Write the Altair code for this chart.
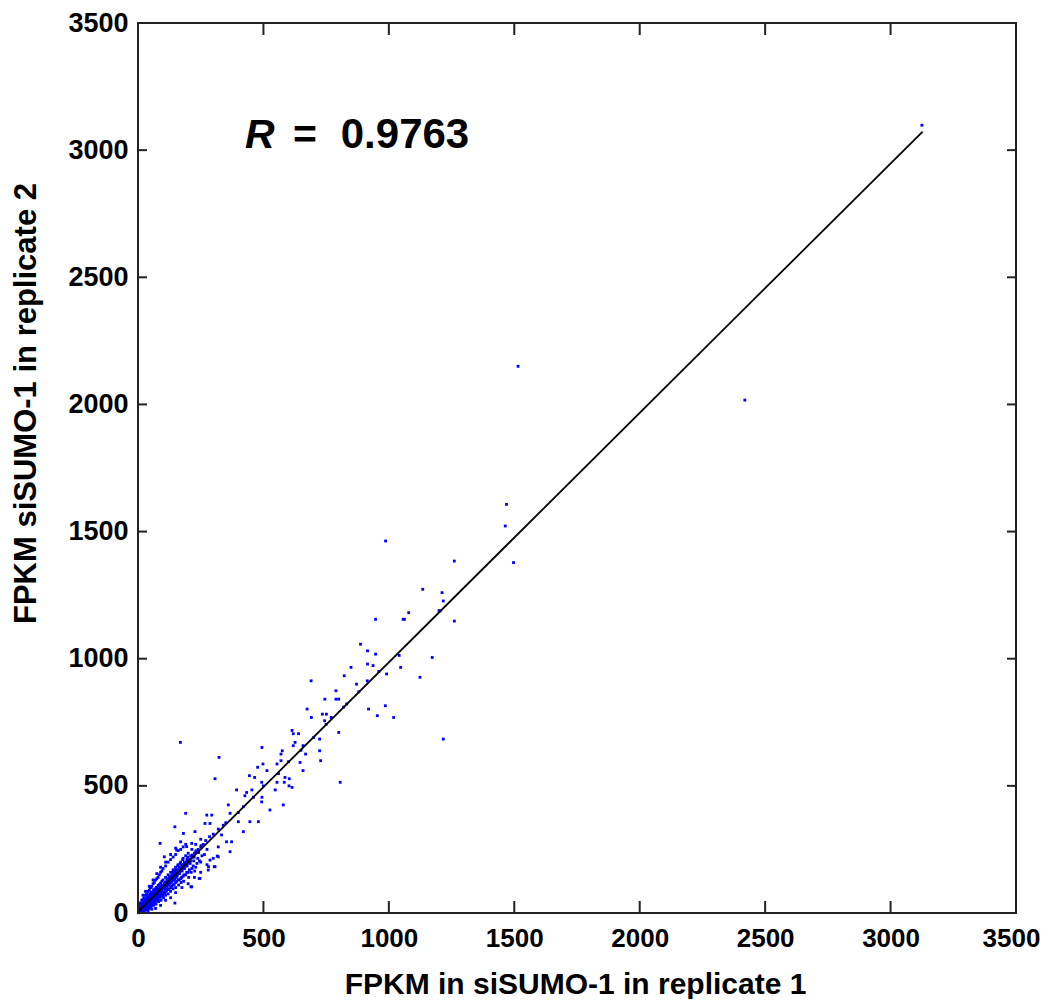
import altair as alt
import pandas as pd

# ---- data (FPKM replicate 1 vs replicate 2) ----
outliers = [
    (1515, 2150), (2419, 2017), (3125, 3098),
    (1469, 1607), (1464, 1522), (987, 1463), (1497, 1378), (1261, 1384),
    (1135, 1273), (1212, 1260), (1217, 1227), (1079, 1181), (1204, 1188),
    (1057, 1155), (1062, 1155), (947, 1155), (1261, 1148), (1041, 1013),
    (1173, 1005), (887, 1057), (915, 1031), (947, 1018), (915, 979),
    (937, 973), (1047, 966), (849, 966), (1124, 927), (991, 940), (690, 913),
    (822, 933), (871, 900), (914, 913), (789, 874), (745, 841), (789, 841),
    (800, 841), (832, 822), (674, 802), (919, 802), (986, 815), (735, 782),
    (751, 782), (954, 776), (1019, 769), (691, 769), (744, 756), (770, 769),
    (800, 710), (1217, 684), (614, 718), (619, 705), (640, 705), (724, 684),
    (626, 671), (619, 658), (658, 658), (668, 625), (575, 638), (570, 625),
    (724, 638), (728, 599), (494, 651), (169, 671), (323, 612), (498, 586),
    (554, 586), (570, 599), (646, 592), (477, 573), (514, 560), (658, 560),
    (444, 540), (465, 533), (307, 528), (586, 533), (603, 528), (554, 514),
    (583, 514), (493, 514), (806, 514), (602, 500), (614, 494), (393, 484),
    (547, 484), (433, 474), (454, 484), (426, 461), (460, 455), (494, 455),
    (579, 425), (526, 405), (493, 437), (446, 359), (480, 359), (420, 320),
    (400, 359), (367, 241), (353, 280), (373, 280), (333, 307), (227, 320),
    (181, 313), (214, 274), (281, 182), (307, 182), (320, 221), (190, 392),
    (147, 339), (274, 385), (294, 385), (267, 352), (287, 352), (367, 392),
    (360, 425), (154, 248), (194, 261), (105, 221), (48, 103), (211, 103),
    (247, 136), (88, 274), (316, 224), (280, 169), (287, 208), (147, 39),
    (214, 103), (244, 136), (304, 182),
]

near_line = [
    (350, 355), (400, 395), (420, 418), (500, 500), (560, 548), (600, 595),
    (650, 640), (700, 690), (750, 742), (820, 810), (880, 870), (960, 950),
    (1200, 1189),
]

cluster = [
    (5, 2), (5, 10), (5, 20), (5, 35), (8, 5), (10, 3), (10, 15), (10, 25),
    (10, 40), (12, 8), (15, 8), (15, 18), (15, 30), (15, 50), (18, 12),
    (20, 10), (20, 22), (20, 35), (20, 55), (22, 5), (25, 15), (25, 28),
    (25, 40), (25, 60), (28, 20), (30, 18), (30, 32), (30, 45), (30, 70),
    (32, 12), (35, 22), (35, 38), (35, 50), (35, 75), (38, 28), (40, 25),
    (40, 42), (40, 58), (40, 85), (42, 15), (45, 30), (45, 48), (45, 65),
    (45, 90), (48, 38), (50, 35), (50, 52), (50, 70), (50, 100), (52, 20),
    (55, 40), (55, 58), (55, 78), (55, 105), (58, 45), (60, 42), (60, 62),
    (60, 80), (60, 115), (62, 30), (65, 48), (65, 68), (65, 88), (65, 120),
    (68, 55), (70, 50), (70, 72), (70, 95), (70, 130), (72, 35), (75, 58),
    (75, 78), (75, 100), (75, 135), (78, 62), (80, 60), (80, 82), (80, 108),
    (80, 140), (82, 45), (85, 65), (85, 88), (85, 112), (85, 150), (88, 72),
    (90, 68), (90, 92), (90, 118), (90, 160), (92, 50), (95, 75), (95, 98),
    (95, 125), (95, 165), (98, 80), (100, 78), (100, 102), (100, 130),
    (100, 175), (102, 60), (110, 85), (110, 112), (110, 140), (110, 185),
    (110, 70), (112, 95), (120, 95), (120, 122), (120, 150), (120, 200),
    (120, 75), (122, 110), (130, 100), (130, 132), (130, 160), (130, 210),
    (130, 85), (132, 120), (140, 110), (140, 142), (140, 170), (140, 220),
    (140, 95), (142, 130), (150, 120), (150, 152), (150, 180), (150, 230),
    (150, 100), (152, 140), (160, 130), (160, 162), (160, 190), (160, 245),
    (162, 110), (170, 135), (170, 172), (170, 200), (170, 250), (172, 120),
    (180, 145), (180, 182), (180, 215), (180, 260), (182, 125), (190, 150),
    (190, 195), (190, 225), (190, 270), (200, 160), (200, 205), (200, 235),
    (202, 140), (215, 175), (215, 220), (215, 250), (230, 180), (230, 240),
    (230, 270), (250, 200), (250, 260), (250, 290),
    (3, 6), (6, 14), (12, 22), (18, 28), (24, 33), (28, 26), (33, 42),
    (38, 46), (44, 52), (48, 60), (53, 62), (57, 66), (63, 72), (67, 78),
    (72, 85), (77, 90), (83, 95), (87, 100), (93, 105), (97, 110), (105, 115),
    (115, 128), (125, 140), (135, 150), (145, 160), (155, 170), (165, 180),
    (175, 190), (185, 200), (195, 210), (210, 225), (225, 235), (240, 250),
    (260, 270), (270, 285), (285, 300), (300, 310), (320, 330), (340, 345),
]

cluster_fill = [
    (2, 1), (4, 12), (7, 3), (7, 18), (9, 28), (11, 6), (13, 16), (14, 35),
    (16, 24), (17, 4), (19, 40), (21, 16), (23, 45), (24, 8), (26, 34),
    (27, 50), (29, 12), (31, 25), (32, 55), (34, 16), (36, 30), (37, 62),
    (39, 20), (41, 35), (43, 68), (44, 22), (46, 42), (47, 75), (49, 28),
    (51, 45), (53, 82), (54, 30), (56, 50), (59, 36), (61, 55), (62, 92),
    (64, 40), (66, 60), (69, 45), (71, 64), (73, 100), (74, 50), (76, 70),
    (79, 55), (81, 75), (84, 58), (86, 80), (89, 62), (91, 85), (94, 66),
    (96, 90), (99, 70), (104, 95), (107, 80), (108, 120), (114, 88),
    (116, 105), (118, 135), (124, 92), (126, 115), (128, 145), (134, 105),
    (136, 125), (138, 160), (144, 112), (146, 135), (148, 170), (154, 125),
    (156, 145), (158, 185), (164, 130), (166, 155), (168, 195), (174, 140),
    (176, 165), (178, 210), (184, 150), (186, 175), (194, 160), (196, 185),
    (198, 220), (205, 170), (208, 195), (212, 160), (220, 185), (222, 205),
    (226, 165), (235, 195), (238, 215), (245, 205), (255, 225), (265, 230),
    (275, 250),
]

cluster_core = [
    (3, 3), (6, 8), (9, 10), (12, 13), (14, 20), (17, 18), (19, 25), (22, 26),
    (24, 22), (27, 32), (29, 36), (32, 30), (34, 40), (37, 44), (39, 38),
    (42, 48), (44, 45), (47, 55), (49, 50), (52, 58), (54, 55), (57, 62),
    (59, 60), (62, 68), (64, 65), (67, 72), (69, 70), (72, 78), (74, 75),
    (77, 82), (79, 80), (82, 88), (84, 85), (87, 92), (89, 90), (92, 98),
    (94, 95), (97, 102), (103, 108), (106, 104), (109, 118), (113, 110),
    (117, 124), (121, 118), (127, 130), (131, 140), (137, 138), (141, 150),
    (147, 145), (151, 160), (157, 152), (161, 170), (167, 165), (171, 180),
    (177, 175), (183, 190), (187, 185), (193, 200), (197, 195), (204, 212),
    (209, 205), (217, 228), (224, 220), (232, 245), (242, 238), (252, 265),
    (20, 70), (30, 85), (45, 105), (60, 130), (75, 155), (90, 180),
    (110, 200), (130, 230), (150, 255), (170, 280), (40, 5), (55, 15),
    (70, 18), (90, 30), (110, 50), (130, 60), (150, 80), (175, 100),
    (200, 115), (225, 140), (250, 160), (275, 190), (300, 215), (320, 260),
]

fit_x = [0, 3128]
fit_y = [5, 3073]
tick_values = [0, 500, 1000, 1500, 2000, 2500, 3000, 3500]
r_label = ["R", "=", "0.9763"]

pts = outliers + near_line + cluster + cluster_fill + cluster_core
rep1 = [p[0] for p in pts]
rep2 = [p[1] for p in pts]

W, H = 878, 890
xs = alt.Scale(domain=[0, 3500], nice=False, zero=False)
ys = alt.Scale(domain=[0, 3500], nice=False, zero=False)

lab_font = "Liberation Sans"

x_axis = alt.Axis(
    values=tick_values, format="d", ticks=False, domain=False, grid=False,
    labelFont=lab_font, labelFontSize=26, labelFontWeight="bold",
    labelColor="black", labelPadding=12, labelBaseline="top",
    labelFlush=False, labelOverlap=False,
    labelOffset={"condition": {"test": "datum.value == 3500", "value": -5}, "value": 0},
    title="FPKM in siSUMO-1 in replicate 1", titleFont="Liberation Sans",
    titleFontSize=30, titleFontWeight="bold", titleColor="black",
    titleBaseline="alphabetic", titleY=80, titleX=W / 2 - 2,
)
y_axis = alt.Axis(
    values=tick_values, format="d", ticks=False, domain=False, grid=False,
    labelFont=lab_font, labelFontSize=27, labelFontWeight="bold",
    labelColor="black", labelPadding=10, labelBaseline="middle",
    labelFlush=False, labelOverlap=False,
    title="FPKM siSUMO-1 in replicate 2", titleFont="Liberation Sans",
    titleFontSize=31, titleFontWeight="bold", titleColor="black",
    titleBaseline="alphabetic", titleAngle=270, titleX=-103, titleY=380,
    titleAlign="center",
)

df_pts = pd.DataFrame({"rep1": rep1, "rep2": rep2})
points = alt.Chart(df_pts).mark_square(size=8, color="#0000ff", opacity=1).encode(
    x=alt.X("rep1:Q", scale=xs, axis=x_axis),
    y=alt.Y("rep2:Q", scale=ys, axis=y_axis),
)

df_fit = pd.DataFrame({"rep1": fit_x, "rep2": fit_y})
fit = alt.Chart(df_fit).mark_line(color="black", strokeWidth=1.8).encode(
    x=alt.X("rep1:Q", scale=xs), y=alt.Y("rep2:Q", scale=ys)
)

df_ticks = pd.DataFrame({"v": tick_values})
tick_col = "#222222"
bt = alt.Chart(df_ticks).mark_rule(color=tick_col, strokeWidth=2).encode(
    x=alt.X("v:Q", scale=xs), y=alt.value(H), y2=alt.value(H - 12))
tt = alt.Chart(df_ticks).mark_rule(color=tick_col, strokeWidth=2).encode(
    x=alt.X("v:Q", scale=xs), y=alt.value(0), y2=alt.value(12))
lt = alt.Chart(df_ticks).mark_rule(color=tick_col, strokeWidth=2).encode(
    y=alt.Y("v:Q", scale=ys), x=alt.value(0), x2=alt.value(9))
rt = alt.Chart(df_ticks).mark_rule(color=tick_col, strokeWidth=2).encode(
    y=alt.Y("v:Q", scale=ys), x=alt.value(W), x2=alt.value(W - 9))

r1 = alt.Chart(pd.DataFrame({"t": [r_label[0]]})).mark_text(
    font="Liberation Sans", fontSize=41, fontWeight="bold", fontStyle="italic",
    align="left", baseline="alphabetic", color="black"
).encode(text="t:N", x=alt.value(107), y=alt.value(125))
r2 = alt.Chart(pd.DataFrame({"t": [r_label[1]]})).mark_text(
    font="Liberation Sans", fontSize=41, fontWeight="bold",
    align="center", baseline="alphabetic", color="black"
).encode(text="t:N", x=alt.value(167), y=alt.value(125))
r3 = alt.Chart(pd.DataFrame({"t": [r_label[2]]})).mark_text(
    font="Liberation Sans", fontSize=42, fontWeight="bold",
    align="center", baseline="alphabetic", color="black"
).encode(text="t:N", x=alt.value(267), y=alt.value(125))

chart = alt.layer(points, fit, bt, tt, lt, rt, r1, r2, r3).properties(
    width=W, height=H,
    autosize=alt.AutoSizeParams(type="none"),
    padding={"left": 130, "top": 15, "right": 26, "bottom": 86},
    background="white",
).configure_view(stroke="#222222", strokeWidth=2)

chart.save("out.html", embed_options={"renderer": "svg", "actions": False})
